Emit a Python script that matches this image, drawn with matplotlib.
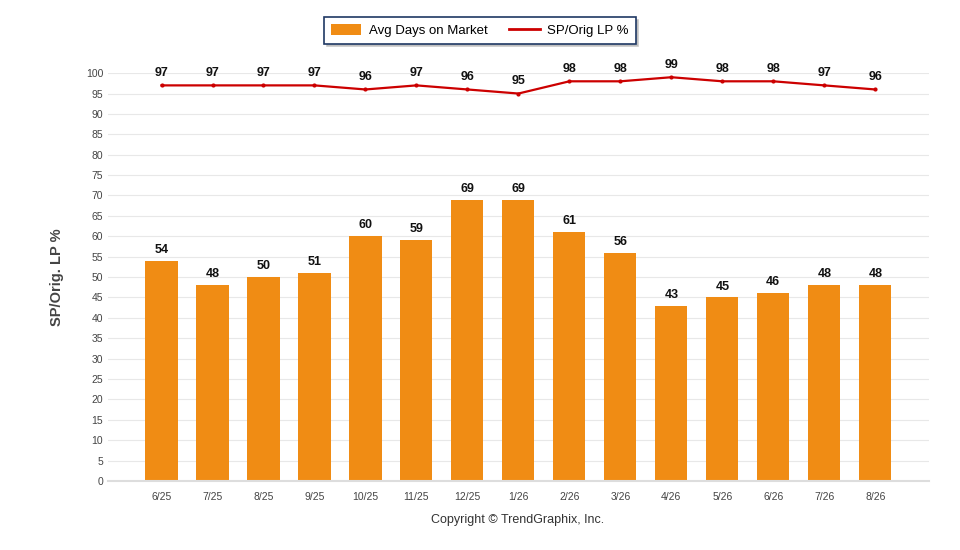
import matplotlib.pyplot as plt
from matplotlib.patches import Patch
from matplotlib.lines import Line2D

# Data
months = ['6/25', '7/25', '8/25', '9/25', '10/25', '11/25', '12/25', '1/26',
          '2/26', '3/26', '4/26', '5/26', '6/26', '7/26', '8/26']
avg_dom = [54, 48, 50, 51, 60, 59, 69, 69, 61, 56, 43, 45, 46, 48, 48]
sp_orig_lp = [97, 97, 97, 97, 96, 97, 96, 95, 98, 98, 99, 98, 98, 97, 96]

bar_color = '#F08C14'
line_color = '#CC0000'

plt.rcParams['font.family'] = ['Liberation Sans', 'DejaVu Sans']

fig = plt.figure(figsize=(9.6, 5.5), dpi=100)
ax = fig.add_axes([0.1125, 0.1255, 0.855, 0.7415])

x = list(range(len(months)))
ax.bar(x, avg_dom, width=0.63, color=bar_color, zorder=2)
ax.plot(x, sp_orig_lp, color=line_color, lw=1.6, marker='o', ms=2, zorder=3, clip_on=False)

for i, v in enumerate(avg_dom):
    ax.text(i, v + 1.2, str(v), ha='center', va='bottom', fontsize=9, fontweight='bold', color='#111111')
for i, v in enumerate(sp_orig_lp):
    ax.text(i, v + 1.5, str(v), ha='center', va='bottom', fontsize=9, fontweight='bold', color='#111111')

ax.set_xlim(-1.05, 15.05)
ax.set_ylim(0, 100)
ax.set_yticks(range(0, 101, 5))
ax.set_xticks(x)
ax.set_xticklabels(months)
ax.tick_params(axis='both', labelsize=7.5, colors='#444444', length=0)
ax.tick_params(axis='x', pad=8)
ax.yaxis.grid(True, color='#E8E8E8', lw=0.8, zorder=0)
ax.set_axisbelow(True)
for s in ['top', 'right', 'left']:
    ax.spines[s].set_visible(False)
ax.spines['bottom'].set_color('#DDDDDD')
ax.spines['bottom'].set_linewidth(1.5)

ax.set_ylabel('SP/Orig. LP %', fontsize=10.5, fontweight='bold', color='#444444', labelpad=16)

handles = [Patch(facecolor=bar_color, label='Avg Days on Market'),
           Line2D([0], [0], color=line_color, lw=2, label='SP/Orig LP %')]
leg = fig.legend(handles=handles, loc='center', bbox_to_anchor=(0.5, 0.945), ncol=2,
                 frameon=True, fancybox=False, shadow={'color': '#BBBBBB', 'alpha': 0.8},
                 fontsize=9.5, handlelength=2.3, handleheight=1.0, columnspacing=1.6,
                 handletextpad=0.6, borderpad=0.5)
leg.get_frame().set_edgecolor('#1F3864')
leg.get_frame().set_linewidth(1.2)

fig.text(0.539, 0.055, 'Copyright \u00a9 TrendGraphix, Inc.', ha='center', va='center',
         fontsize=9, color='#333333')

fig.savefig('out.png', dpi=100)
